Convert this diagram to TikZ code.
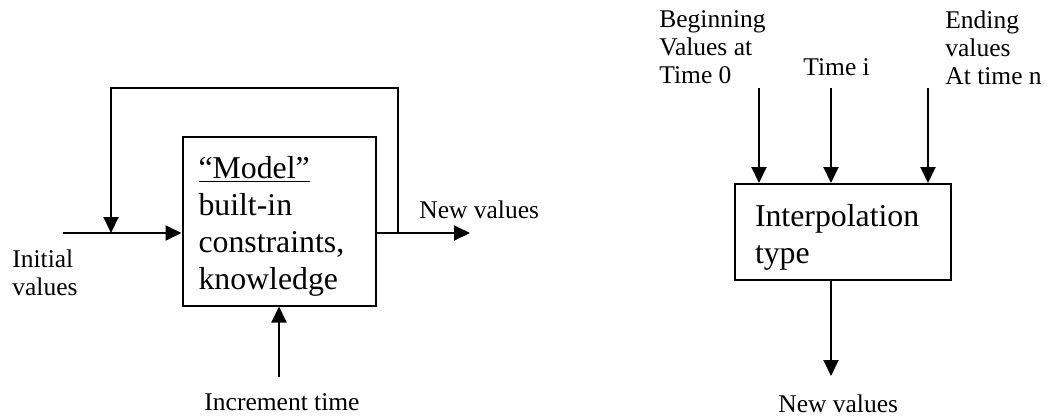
\documentclass[tikz,border=0pt]{standalone}
\usepackage{fontspec}
\setmainfont{Liberation Serif}
\usetikzlibrary{arrows.meta}
\tikzstyle{block}=[draw,line width=1pt,inner sep=0pt,align=left,text height=16pt]
\tikzstyle{flow}=[draw,line width=1pt,-{Triangle[length=8pt,width=7.5pt]}]
\tikzstyle{wire}=[draw,line width=1pt]
\tikzstyle{txt}=[inner sep=0pt,align=left,font=\fontsize{12.75}{14}\selectfont]

\begin{document}
\begin{tikzpicture}[x=0.5pt,y=-0.5pt]
			\useasboundingbox (0,0) rectangle (1050,418);

			% Model with feedback loop
			\node[block, minimum width=96.5pt, minimum height=84.5pt, text width=80.5pt,
				font=\fontsize{15.9}{18.5}\selectfont] (model) at (279,221)
				{\underline{“Model”}\\built-in\\constraints,\\knowledge};
			\coordinate (init) at (63,233);
			\coordinate (merge) at (111,233);
			\coordinate (split) at (398,233);
			\coordinate (newout) at (470,233);
			\coordinate (tick) at (279,377);

			\path[flow] (init) -- (init -| model.west);
			\path[wire] (model.east |- split) -- (split);
			\path[flow] (split) -- (newout);
			\path[flow] (split) -- ++(0,-145) -| (merge);
			\path[flow] (tick) -- (model.south);

			\node[txt, anchor=north west] (initlbl) at (12,249) {Initial\\values};
			\node[txt, anchor=base west] (newlbl) at (419,218) {New values};
			\node[txt, anchor=base] (ticklbl) at (282,410) {Increment time};

			% Interpolation between two ends
			\node[block, minimum width=108pt, minimum height=48pt, text width=88pt,
				font=\fontsize{15.9}{18.5}\selectfont] (interp) at (843,232)
				{Interpolation\\type};
			\foreach \name/\x in {begin/759, mid/831, end/928}
			{
				\coordinate (\name) at (\x,88);
				\path[flow] (\name) -- (\name |- interp.north);
			}
			\coordinate (result) at (831,376);
			\path[flow] (interp.south -| result) -- (result);

			\node[txt, anchor=north west] (beginlbl) at (659,10) {Beginning\\Values at\\Time 0};
			\node[txt, anchor=base west] (midlbl) at (803,75) {Time i};
			\node[txt, anchor=north west] (endlbl) at (945,10) {Ending\\values\\At time n};
			\node[txt, anchor=base west] (reslbl) at (778,412) {New values};

		\end{tikzpicture}
\end{document}
